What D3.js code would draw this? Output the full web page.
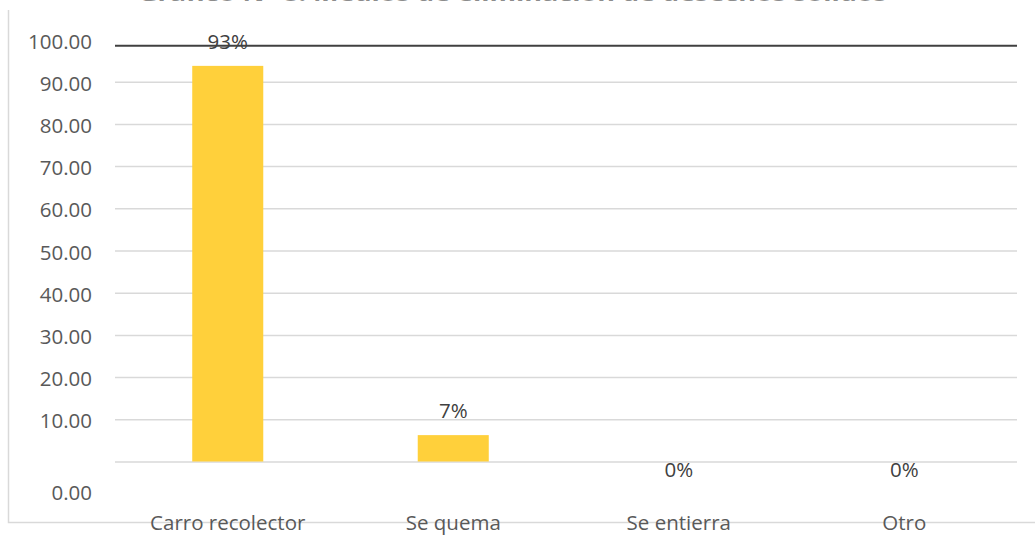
<!DOCTYPE html>
<html><head><meta charset="utf-8">
<script src="https://cdn.jsdelivr.net/npm/d3@7"></script>
<style>body{margin:0;background:#fff}svg{display:block}text{font-family:"Open Sans",sans-serif}</style>
</head><body>
<svg id="c" width="1035" height="536"></svg>
<script>
const categories = ["Carro recolector", "Se quema", "Se entierra", "Otro"];
const values = [93.75, 6.25, 0, 0];
const valueLabels = ["93%", "7%", "0%", "0%"];
const tickValues = [0, 10, 20, 30, 40, 50, 60, 70, 80, 90, 100];
const titleText = "Gráfico N° 8: Medios de eliminación de desechos sólidos";

const svg = d3.select("#c");
const W = 1035, H = 536;
const x = d3.scaleBand().domain(categories).range([115, 1017]).paddingInner(0.685).paddingOuter(0.3425);
const y = d3.scaleLinear().domain([0, 100]).range([461.5, 39.5]);

// cut-off title (only the bottom of the glyphs shows)
svg.append("text").attr("x", 138).attr("y", 0.8).attr("fill", "#8c8c8c")
  .attr("font-size", 22).attr("font-weight", "bold")
  .attr("textLength", 749).attr("lengthAdjust", "spacingAndGlyphs").text(titleText);

// outer border
svg.append("path").attr("d", `M8.5,10V522.5H${W}`).attr("fill", "none").attr("stroke", "#d9d9d9").attr("stroke-width", 1.5);

// gridlines
const yAxis = d3.axisLeft(y).tickValues(tickValues.filter(v => v < 100)).tickSize(-(1017 - 115)).tickFormat("");
const g = svg.append("g").attr("transform", "translate(115,0)").call(yAxis);
g.select(".domain").remove();
g.selectAll(".tick line").attr("stroke", "#d9d9d9").attr("stroke-width", 1.5);

// tick labels
svg.append("g").selectAll("text").data(tickValues).join("text")
  .attr("x", 92).attr("y", d => d === 0 ? y(0) + 31 : y(d) + 2)
  .attr("dy", "0.35em").attr("text-anchor", "end").attr("fill", "#595959").attr("font-size", 20.5)
  .text(d => d3.format(".2f")(d));

// bars
svg.append("g").selectAll("rect").data(values).join("rect")
  .attr("x", (d, i) => x(categories[i])).attr("width", x.bandwidth())
  .attr("y", d => y(d)).attr("height", d => y(0) - y(d)).attr("fill", "#FFD03B");

// top dark line
svg.append("line").attr("x1", 115).attr("x2", 1017).attr("y1", 45.7).attr("y2", 45.7)
  .attr("stroke", "#404040").attr("stroke-width", 2);

// value labels
svg.append("g").selectAll("text").data(values).join("text")
  .attr("x", (d, i) => x(categories[i]) + x.bandwidth() / 2)
  .attr("y", d => d > 0 ? y(d) - 24 : y(0) + 8)
  .attr("dy", "0.35em").attr("text-anchor", "middle").attr("fill", "#404040").attr("font-size", 20.5)
  .text((d, i) => valueLabels[i]);

// category labels
svg.append("g").selectAll("text").data(categories).join("text")
  .attr("x", d => x(d) + x.bandwidth() / 2).attr("y", 523)
  .attr("dy", "0.35em").attr("text-anchor", "middle").attr("fill", "#595959").attr("font-size", 20.5)
  .text(d => d);
</script>
</body></html>
